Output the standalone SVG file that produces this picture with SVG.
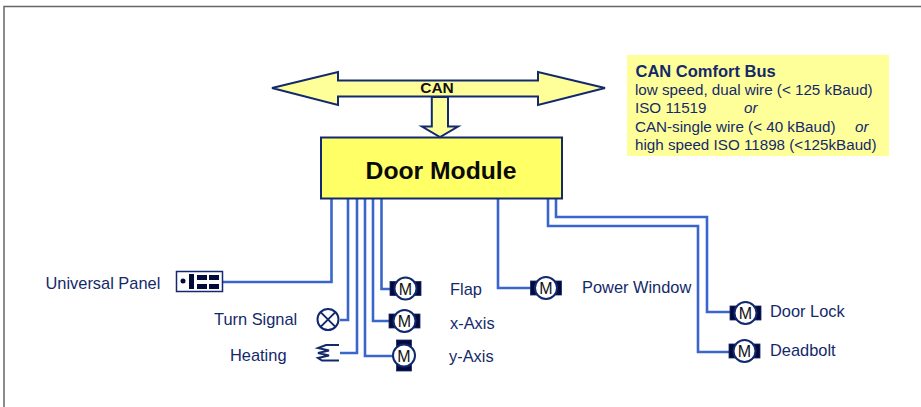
<svg xmlns="http://www.w3.org/2000/svg" width="921" height="407" viewBox="0 0 921 407">
<style>
text{font-family:"Liberation Sans",Arial,sans-serif;fill:#14296b;font-size:16.400px}
.b{font-size:15.200px}
.w{fill:none;stroke:#3a66cc;stroke-width:2.600;stroke-linejoin:miter}
.y{fill:#ffff99;stroke:#12296e;stroke-width:2}
.k{fill:#020a3c;stroke:#14296b;stroke-width:.8}
.c{fill:#fff;stroke:#12296e;stroke-width:2}
.m{font-size:16px;fill:#111;text-anchor:middle}
</style>
<defs>
<g id="mh"><rect class="k" x="-15.500" y="-7" width="31" height="14"/><circle class="c" cy="0" r="11"/><text class="m" y="6">M</text></g>
<g id="mv"><rect class="k" x="-7.500" y="-15.500" width="15" height="31"/><circle class="c" r="11"/><text class="m" y="6">M</text></g>
</defs>
<path d="M4 407V6.500H921" fill="none" stroke="#666" stroke-width="1.500"/>
<g id="connectors">
<path class="w" d="M331.500 198V282H223"/>
<path class="w" d="M348 198V320H340"/>
<path class="w" d="M357 198V353H340"/>
<path class="w" d="M365 198V356H394"/>
<path class="w" d="M373 198V321H390"/>
<path class="w" d="M381.500 198V289H391"/>
<path class="w" d="M498 198V288H531"/>
<path class="w" d="M548 198V226H698V352H730"/>
<path class="w" d="M556 198V217H707V312H731"/>
</g>
<g id="can-bus">
<path class="y" d="M272 88L338 72V80.500H538V72L605 88L538 105V96.500H338V105Z"/>
<path class="y" d="M431.800 97V126.500H422L440 137L458 126.500H448V97Z"/>
<text x="437" y="93" text-anchor="middle" style="font-size:15.500px;font-weight:700;fill:#111">CAN</text>
</g>
<g id="door-module">
<rect x="321" y="137.500" width="241" height="61" fill="#ffff66" stroke="#12296e" stroke-width="2"/>
<text x="441" y="179" text-anchor="middle" style="font-size:24.700px;font-weight:700;fill:#0a0a0a">Door Module</text>
</g>
<g id="info-box">
<rect x="627" y="55" width="262" height="101" fill="#ffff99"/>
<text class="b" x="635.500" y="77" style="font-weight:700;font-size:16.500px">CAN Comfort Bus</text>
<text class="b" x="635" y="95">low speed, dual wire (&lt; 125 kBaud)</text>
<text class="b" x="635" y="113">ISO 11519</text>
<text class="b" x="744" y="113" font-style="italic">or</text>
<text class="b" x="635" y="132">CAN-single wire (&lt; 40 kBaud)</text>
<text class="b" x="855" y="132" font-style="italic">or</text>
<text class="b" x="635" y="150">high speed ISO 11898 (&lt;125kBaud)</text>
</g>
<g id="universal-panel">
<rect x="176.500" y="271.500" width="46" height="20" fill="#fff" stroke="#12296e" stroke-width="1.500"/>
<circle cx="183" cy="281" r="2.500" fill="#020a3c"/>
<rect x="189" y="274" width="5" height="15" fill="#020a3c"/>
<path d="M197 275h10v5h-10zM197 284h10v5h-10zM209 275h10v5h-10zM209 284h10v5h-10z" fill="#020a3c"/>
<text x="45.500" y="289">Universal Panel</text>
</g>
<g id="turn-signal">
<circle cx="328" cy="319.500" r="10.500" fill="#fff" stroke="#12296e" stroke-width="2"/>
<path d="M320.600 312.100L335.400 326.900M335.400 312.100L320.600 326.900" stroke="#12296e" stroke-width="2"/>
<text x="214" y="325">Turn Signal</text>
</g>
<g id="heating">
<path d="M339 345H326L318 348L329 350.500L318 353L329 355.500L318 358L322 360.500H339" fill="none" stroke="#12296e" stroke-width="2"/>
<text x="230" y="361">Heating</text>
</g>
<g id="flap"><use href="#mh" x="405.500" y="288.500"/><text x="450" y="295">Flap</text></g>
<g id="x-axis"><use href="#mh" x="404.500" y="321"/><text x="450" y="329">x-Axis</text></g>
<g id="y-axis"><use href="#mv" x="404" y="355.500"/><text x="449" y="362">y-Axis</text></g>
<g id="power-window"><use href="#mh" x="546" y="288"/><text x="582" y="293">Power Window</text></g>
<g id="door-lock"><use href="#mh" x="745.500" y="313"/><text x="770" y="317">Door Lock</text></g>
<g id="deadbolt"><use href="#mh" x="744.500" y="351"/><text x="770" y="356">Deadbolt</text></g>
</svg>
